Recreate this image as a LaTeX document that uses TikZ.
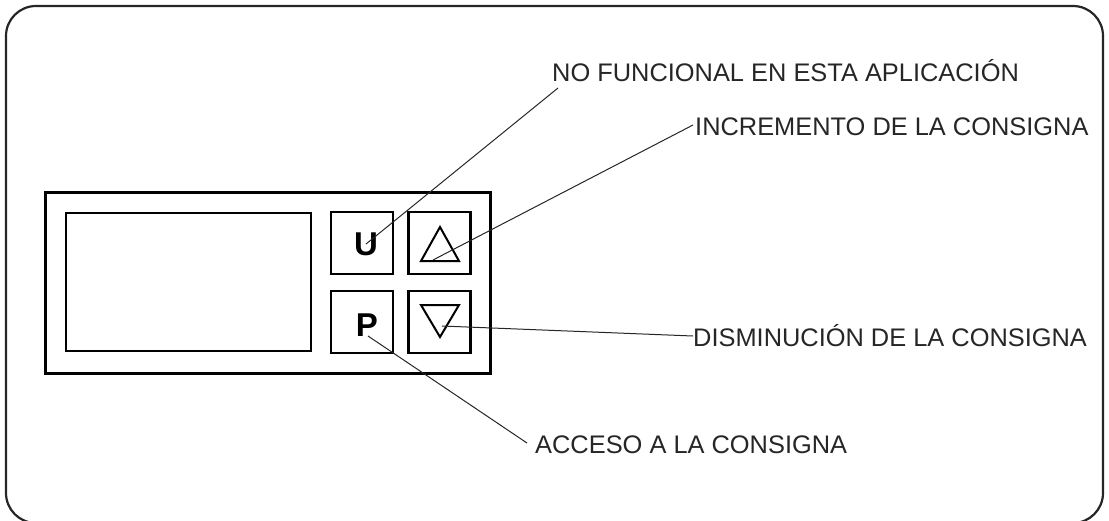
\documentclass[tikz,border=0pt]{standalone}
\usepackage{fontspec}
\setmainfont{Liberation Sans}
\begin{document}
\begin{tikzpicture}[
  x=1pt, y=-1pt,
  frame/.style={draw=black!85, line width=2.2pt, rounded corners=30pt},
  panel/.style={draw, line width=3pt},
  btn/.style={draw, line width=2.5pt, minimum size=62pt, inner sep=0pt},
  key/.style={font=\fontsize{33}{33}\selectfont\bfseries, inner sep=0pt},
  lbl/.style={anchor=base west, inner sep=0pt, text=black!85, font=\fontsize{25.4}{30}\selectfont},
  lead/.style={line width=1pt, black!85}
]
\useasboundingbox (0,0) rectangle (1109,520);
\clip (0,0) rectangle (1109,520);
\draw[frame] (6,6) rectangle (1103,523);
% controller front
\draw[panel] (45.5,192.5) rectangle (490.5,373);
\draw[line width=2pt] (66,212.5) rectangle (311,351);
\node[btn] (bU) at (362,243) {};
\node[btn] (bUp) at (439.5,243) {};
\node[btn] (bP) at (362,322) {};
\node[btn] (bDown) at (439.5,322) {};
\node[key] (keyU) at (366,244) {U};
\node[key] (keyP) at (367,325) {P};
\draw[line width=2pt, line join=miter] (421,261) -- (440,227) -- (459,261) -- cycle;
\draw[line width=2pt, line join=miter] (421,305) -- (440,337) -- (459,305) -- cycle;
% labels
\node[lbl] (lNF) at (552,81) {NO FUNCIONAL EN ESTA APLICACIÓN};
\node[lbl] (lInc) at (695,135) {INCREMENTO DE LA CONSIGNA};
\node[lbl] (lDis) at (693,346) {DISMINUCIÓN DE LA CONSIGNA};
\node[lbl] (lAcc) at (535,453) {ACCESO A LA CONSIGNA};
\coordinate (tNF) at (558,88);
\coordinate (tInc) at (693,125);
\coordinate (tDis) at (693,336);
\coordinate (tAcc) at (527,443);
\coordinate (eUp) at (433,260);
\coordinate (eDown) at (442,326);
\coordinate (eP) at (368,336);
\draw[lead] (tNF) -- (keyU.center);
\draw[lead] (tInc) -- (eUp);
\draw[lead] (tDis) -- (eDown);
\draw[lead] (tAcc) -- (eP);
\end{tikzpicture}
\end{document}
